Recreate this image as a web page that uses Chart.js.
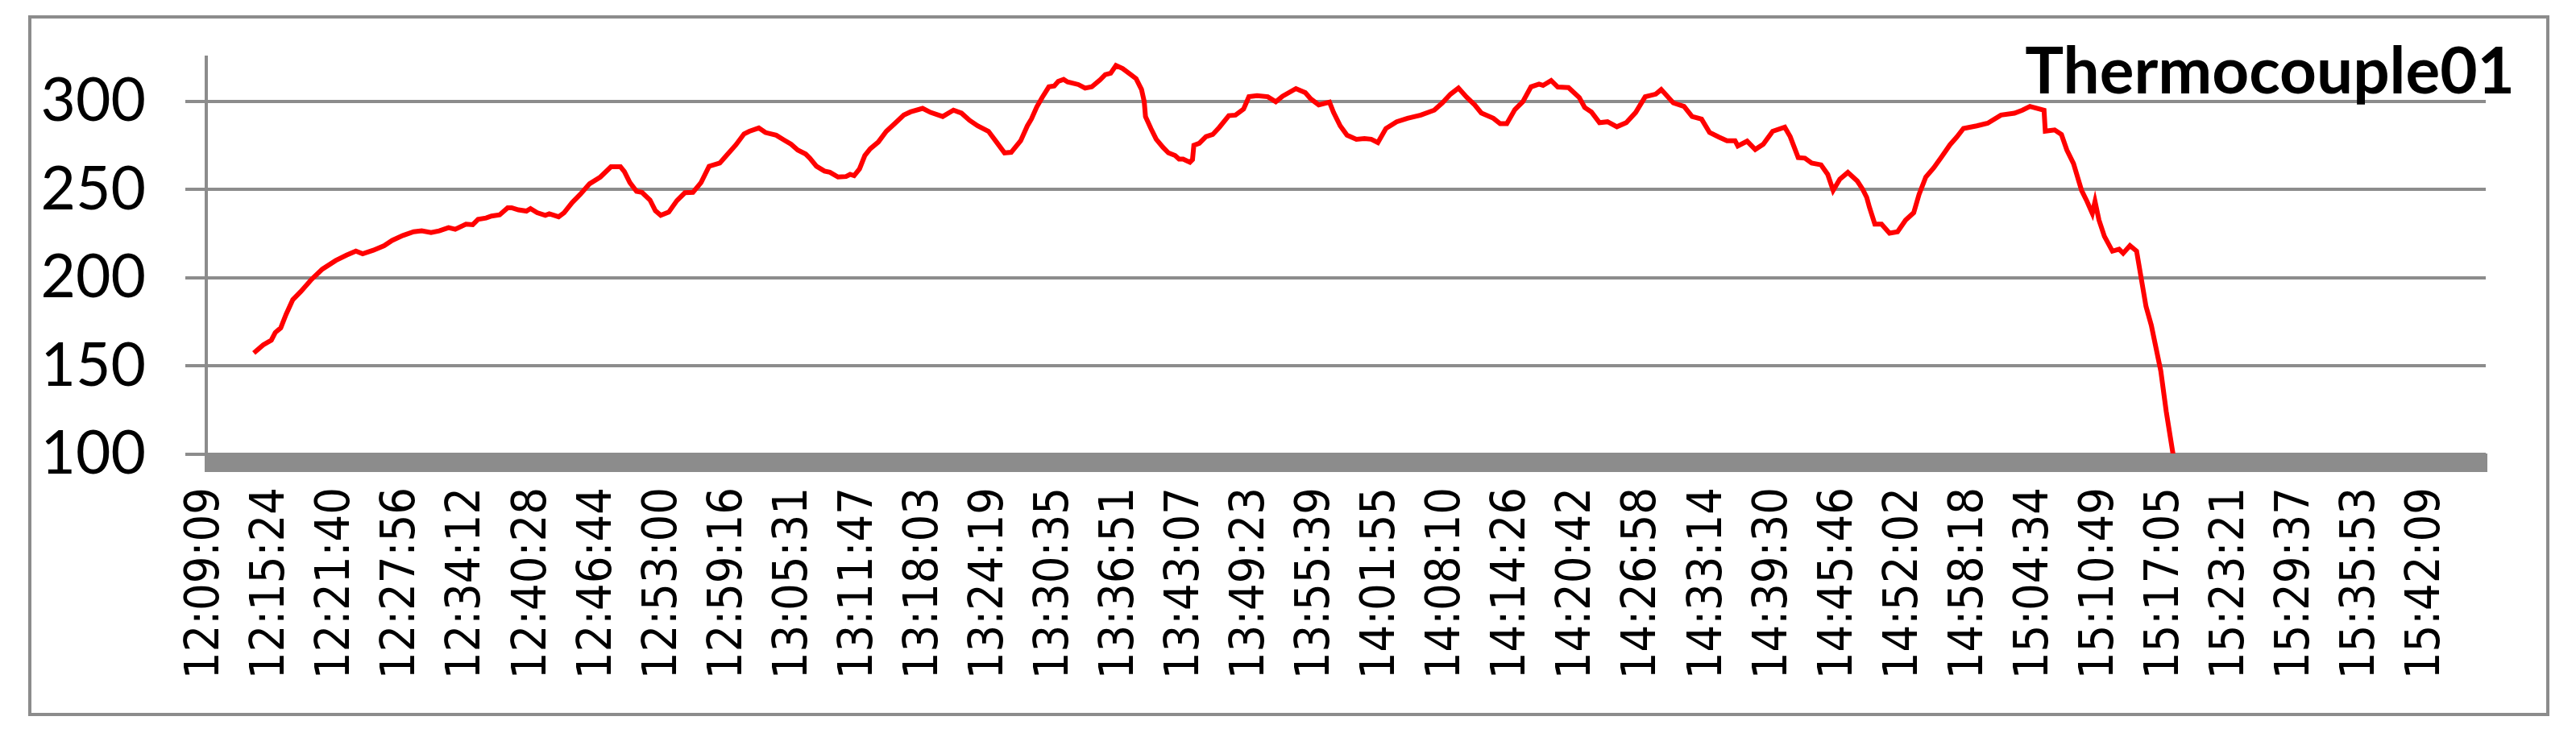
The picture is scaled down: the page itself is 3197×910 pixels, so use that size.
<!DOCTYPE html>
<html>
<head>
<meta charset="utf-8">
<script src="https://cdn.jsdelivr.net/npm/chart.js@4.4.1/dist/chart.umd.min.js"></script>
<style>
  html, body { margin: 0; padding: 0; background: #ffffff; }
  #wrap { width: 3197px; height: 910px; position: relative; }
  canvas { display: block; }
</style>
</head>
<body>
<div id="wrap"><canvas id="chart" width="3197" height="910"></canvas></div>
<script>
// ---------- data ----------
const seriesName = "Thermocouple01";

const tickLabels = [
  "12:09:09","12:15:24","12:21:40","12:27:56","12:34:12","12:40:28","12:46:44",
  "12:53:00","12:59:16","13:05:31","13:11:47","13:18:03","13:24:19","13:30:35",
  "13:36:51","13:43:07","13:49:23","13:55:39","14:01:55","14:08:10","14:14:26",
  "14:20:42","14:26:58","14:33:14","14:39:30","14:45:46","14:52:02","14:58:18",
  "15:04:34","15:10:49","15:17:05","15:23:21","15:29:37","15:35:53","15:42:09"
];
const axisEndTime = "15:47:48";

const yTickValues = [100, 150, 200, 250, 300];
const yMin = 100;
const yMax = 325;

// minutes elapsed since the first category (12:09:09)
const minutes = [
  4.56, 5.46, 6.24, 6.62, 7.14, 7.65, 8.30, 9.07, 10.10, 11.13,
  12.42, 13.45, 14.35, 15.00, 16.02, 17.06, 17.83, 18.86, 19.89, 20.66,
  21.56, 22.34, 23.24, 23.88, 24.91, 25.56, 26.07, 26.84, 27.36, 28.14,
  28.91, 29.29, 29.94, 30.71, 31.10, 31.74, 32.52, 32.90, 33.80, 34.32,
  35.09, 35.86, 36.77, 37.80, 38.82, 39.73, 40.11, 40.63, 41.27, 41.79,
  42.56, 43.08, 43.59, 44.36, 45.14, 45.91, 46.68, 47.46, 48.23, 49.26,
  49.78, 50.81, 51.58, 52.09, 53.00, 53.64, 54.67, 55.44, 56.09, 56.73,
  57.50, 57.89, 58.53, 59.30, 59.82, 60.60, 61.37, 61.76, 62.14, 62.66,
  63.17, 63.69, 64.46, 65.23, 66.01, 66.91, 67.55, 68.71, 69.48, 70.64,
  71.67, 72.44, 73.22, 73.99, 75.03, 75.80, 76.57, 77.21, 78.12, 78.76,
  79.15, 79.66, 80.17, 80.82, 81.34, 81.72, 82.24, 82.62, 83.65, 84.30,
  84.94, 85.72, 86.23, 86.75, 87.26, 87.90, 88.68, 89.19, 89.71, 89.97,
  90.09, 90.61, 91.12, 91.77, 92.29, 92.93, 93.31, 93.70, 94.35, 94.60,
  94.73, 95.25, 95.89, 96.54, 97.18, 98.08, 98.72, 99.50, 100.01, 100.79,
  101.82, 102.59, 103.24, 104.52, 105.42, 105.94, 106.71, 107.74, 108.13, 108.77,
  109.42, 110.32, 111.09, 111.74, 112.38, 113.15, 114.18, 115.22, 116.50, 117.79,
  118.56, 119.34, 120.11, 120.88, 121.66, 122.30, 123.46, 124.11, 124.75, 125.52,
  126.29, 127.07, 127.84, 128.23, 129.00, 129.64, 130.67, 131.70, 132.22, 132.86,
  133.64, 134.41, 135.31, 136.21, 137.11, 138.02, 139.04, 139.56, 140.72, 141.75,
  142.52, 143.43, 144.20, 145.10, 145.87, 146.64, 146.91, 147.80, 148.58, 149.35,
  150.25, 151.41, 151.93, 152.70, 153.34, 153.99, 154.89, 155.53, 156.05, 156.69,
  157.46, 158.37, 158.88, 159.27, 159.53, 160.05, 160.69, 161.46, 162.23, 163.00,
  163.78, 164.29, 164.94, 165.71, 166.48, 167.26, 167.90, 168.55, 169.83, 170.87,
  172.15, 173.44, 174.21, 174.93, 176.28, 176.40, 177.30, 177.95, 178.47, 179.11,
  179.88, 180.40, 180.91, 181.17, 181.55, 182.07, 182.84, 183.48, 183.87, 184.52,
  185.16, 186.06, 186.57, 187.48, 188.00, 188.64, 188.90
];

const temperature = [
  157.4, 162.0, 164.7, 169.0, 171.6, 179.2, 187.6, 192.2, 199.1, 204.9,
  209.8, 212.8, 215.1, 213.6, 215.6, 218.2, 221.2, 224.0, 226.1, 226.6,
  225.6, 226.6, 228.4, 227.5, 230.4, 230.1, 233.1, 233.9, 235.0, 235.7,
  239.7, 239.7, 238.5, 237.8, 239.2, 236.9, 235.4, 236.3, 234.6, 236.9,
  242.6, 247.2, 253.3, 257.1, 262.9, 262.9, 260.1, 254.0, 249.0, 248.4,
  244.1, 238.0, 235.4, 237.2, 243.7, 248.2, 248.4, 254.0, 263.2, 265.0,
  268.5, 275.4, 281.5, 283.0, 284.9, 282.3, 280.8, 278.0, 275.7, 272.4,
  270.1, 267.8, 263.2, 260.5, 259.8, 257.1, 257.4, 258.6, 257.9, 261.7,
  269.3, 273.1, 276.9, 283.0, 287.2, 292.2, 294.0, 296.0, 293.7, 291.4,
  295.0, 293.3, 289.2, 286.1, 283.0, 276.9, 270.8, 271.1, 277.7, 286.1,
  290.0, 296.8, 302.1, 308.2, 308.7, 311.3, 312.4, 311.0, 309.5, 307.5,
  308.2, 312.1, 315.1, 315.9, 320.3, 318.6, 315.1, 312.8, 306.7, 299.8,
  291.4, 284.6, 278.5, 273.9, 270.8, 269.3, 267.3, 267.3, 265.5, 267.0,
  275.1, 276.2, 280.0, 281.2, 285.3, 291.9, 292.2, 295.6, 302.6, 303.2,
  302.6, 299.8, 302.9, 307.2, 304.9, 301.4, 298.0, 299.5, 293.7, 286.1,
  280.8, 278.5, 278.9, 278.5, 276.6, 284.6, 288.4, 290.4, 292.2, 295.0,
  299.1, 304.0, 307.5, 302.4, 298.0, 293.4, 290.4, 287.3, 287.3, 295.3,
  299.8, 308.2, 309.8, 309.0, 311.8, 308.1, 307.8, 302.1, 296.5, 294.0,
  287.9, 288.4, 285.6, 287.9, 293.7, 302.6, 304.1, 306.7, 299.1, 297.1,
  291.4, 289.9, 282.3, 279.7, 277.7, 277.7, 274.7, 277.4, 272.7, 275.7,
  283.0, 285.3, 280.0, 268.1, 267.8, 265.0, 264.0, 258.6, 249.5, 255.9,
  259.7, 254.8, 250.2, 245.6, 240.0, 230.4, 230.4, 225.3, 226.1, 232.7,
  236.9, 247.2, 257.1, 262.4, 268.8, 275.4, 279.7, 284.6, 286.1, 287.6,
  292.2, 293.3, 295.0, 297.1, 295.0, 283.1, 283.8, 281.2, 272.4, 264.7,
  249.5, 243.3, 236.5, 243.3, 232.7, 223.5, 215.1, 216.2, 213.9, 218.2,
  215.1, 183.8, 173.1, 147.2, 124.3, 100.6, 91.0
];

// ---------- helpers ----------
function toSeconds(t) {
  const p = t.split(":").map(Number);
  return p[0] * 3600 + p[1] * 60 + p[2];
}
const startSec = toSeconds(tickLabels[0]);
function toMinutes(t) { return (toSeconds(t) - startSec) / 60; }

const GRAY = "#8c8c8c";

// ---------- plugins ----------
const framePlugin = {
  id: "frame",
  beforeDraw(chart) {
    const ctx = chart.ctx;
    ctx.save();
    ctx.fillStyle = "#ffffff";
    ctx.fillRect(0, 0, chart.width, chart.height);
    ctx.strokeStyle = GRAY;
    ctx.lineWidth = 4;
    ctx.strokeRect(37, 21, 3125, 866);
    ctx.restore();
  }
};

const axisBarPlugin = {
  id: "axisBar",
  afterDatasetsDraw(chart) {
    const ctx = chart.ctx;
    const a = chart.chartArea;
    const y0 = chart.scales.y.getPixelForValue(yMin);
    ctx.save();
    ctx.fillStyle = GRAY;
    ctx.fillRect(a.left - 2, y0 - 1, a.right - a.left + 4, 23);
    ctx.restore();
  }
};

const seriesLabelPlugin = {
  id: "seriesLabel",
  afterDraw(chart) {
    const ctx = chart.ctx;
    ctx.save();
    ctx.font = "bold 80px Lato, 'Open Sans', sans-serif";
    ctx.fillStyle = "#000000";
    ctx.textAlign = "right";
    ctx.textBaseline = "alphabetic";
    ctx.fillText(chart.data.datasets[0].label, 3121, 116);
    ctx.restore();
  }
};

// ---------- chart ----------
new Chart(document.getElementById("chart"), {
  type: "line",
  data: {
    datasets: [{
      label: seriesName,
      data: minutes.map((m, i) => ({ x: m, y: temperature[i] })),
      borderColor: "#ff0000",
      borderWidth: 6,
      pointRadius: 0,
      tension: 0,
      fill: false,
      clip: { left: 0, top: 10, right: 0, bottom: 0 }
    }]
  },
  options: {
    responsive: false,
    animation: false,
    devicePixelRatio: 1,
    layout: { padding: { left: 0, top: 71, right: 112, bottom: 0 } },
    plugins: {
      legend: { display: false },
      title: { display: false },
      tooltip: { enabled: false }
    },
    scales: {
      x: {
        type: "linear",
        min: 0,
        max: toMinutes(axisEndTime),
        afterBuildTicks(scale) {
          scale.ticks = tickLabels.map(t => ({ value: toMinutes(t) }));
        },
        afterFit(scale) {
          scale.height = 346;
          scale.paddingLeft = 0;
          scale.paddingRight = 0;
        },
        grid: { display: false, drawTicks: false },
        border: { display: false },
        ticks: {
          autoSkip: false,
          minRotation: 90,
          maxRotation: 90,
          padding: 41,
          color: "#000000",
          font: { family: "'DejaVu Sans Condensed', 'DejaVu Sans', sans-serif", size: 59 },
          callback: (v, i) => tickLabels[i]
        }
      },
      y: {
        type: "linear",
        min: yMin,
        max: yMax,
        afterBuildTicks(scale) {
          scale.ticks = yTickValues.map(v => ({ value: v }));
        },
        afterFit(scale) {
          scale.width = 256;
          scale.paddingTop = 0;
          scale.paddingBottom = 0;
        },
        grid: { color: GRAY, lineWidth: 4, drawTicks: true, tickLength: 26, tickColor: GRAY, tickWidth: 4 },
        border: { display: true, color: GRAY, width: 4 },
        ticks: {
          padding: 49,
          color: "#000000",
          font: { family: "Lato, 'Open Sans', sans-serif", size: 75 },
          callback: v => String(v)
        }
      }
    }
  },
  plugins: [framePlugin, axisBarPlugin, seriesLabelPlugin]
});
</script>
</body>
</html>
